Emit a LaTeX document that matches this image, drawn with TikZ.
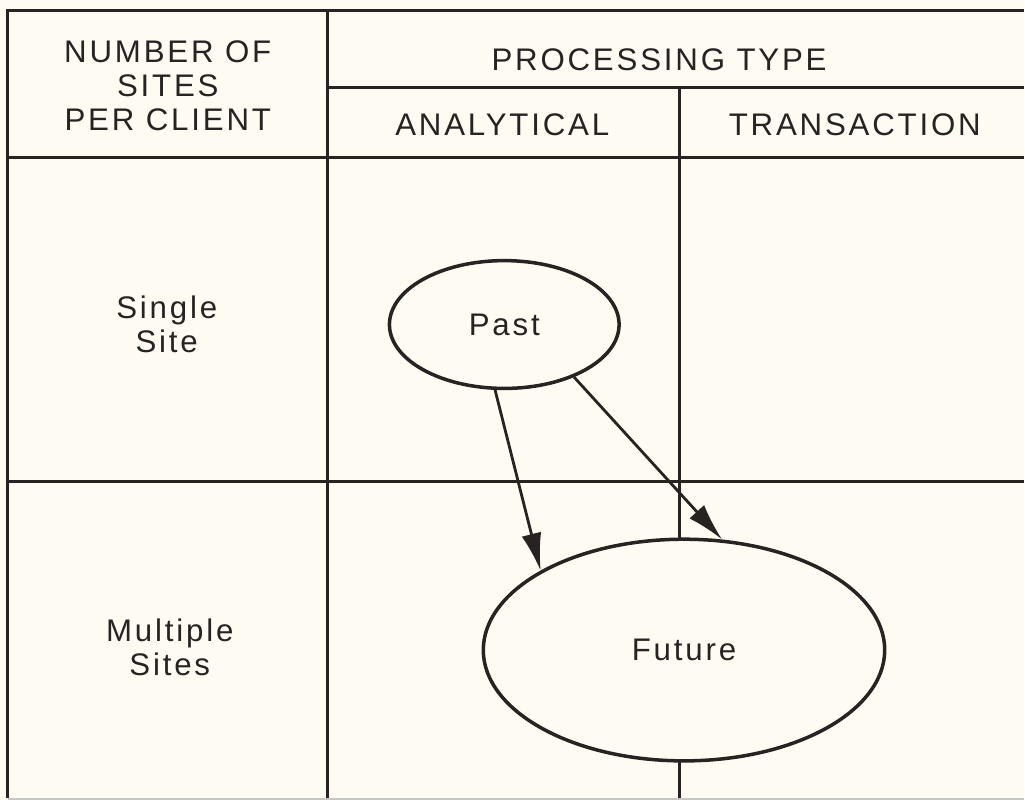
\documentclass[tikz,border=0pt]{standalone}
\usepackage{fontspec}
\setmainfont{Liberation Sans}[LetterSpace=9]
\usetikzlibrary{shapes.geometric,arrows.meta}

\definecolor{paper}{RGB}{254,251,243}
\definecolor{ink}{RGB}{40,34,35}

\begin{document}
\begin{tikzpicture}[>={Latex[length=7.5mm,width=4mm]},color=ink,
    font=\fontsize{17.8}{19.5}\selectfont,
    grid/.style={line width=1.7pt},
    blob/.style={ellipse,draw,line width=2pt,fill=paper,inner sep=0pt},
    flow/.style={->,line width=1.6pt}]
    \fill [paper] (0,0) rectangle (20.5,16.02);
    % table rules
    \draw [grid] (20.5,15.8) -- (0.16,15.8) -- (0.16,0.04);
    \draw [grid] (6.56,15.8) -- (6.56,0.04);
    \draw [grid] (6.56,14.26) -- (20.5,14.26);
    \draw [grid] (0.16,12.86) -- (20.5,12.86);
    \draw [grid] (0.16,6.38) -- (20.5,6.38);
    \draw [grid] (13.6,14.26) -- (13.6,0.04);
    \draw [gray!45,line width=1pt] (0.16,0.02) -- (20.5,0.02);
    % headings
    \node [align=center] (sites) at (3.36,14.3) {NUMBER OF\\SITES\\PER CLIENT};
    \node (ptype) at (13.2,14.82) {PROCESSING TYPE};
    \node (anal) at (10.06,13.52) {ANALYTICAL};
    \node (trans) at (17.12,13.52) {TRANSACTION};
    \node [align=center] (single) at (3.34,9.52) {Single\\Site};
    \node [align=center] (multi) at (3.4,3.06) {Multiple\\Sites};
    % past and future
    \node [blob,minimum width=4.6cm,minimum height=2.56cm] (past) at (10.1,9.52) {Past};
    \node [blob,minimum width=8.04cm,minimum height=4.44cm] (future) at (13.7,3.0) {Future};
    \draw [flow] (past.-98) -- (future.151);
    \draw [flow] (past.-37) -- (future.71);
\end{tikzpicture}
\end{document}
